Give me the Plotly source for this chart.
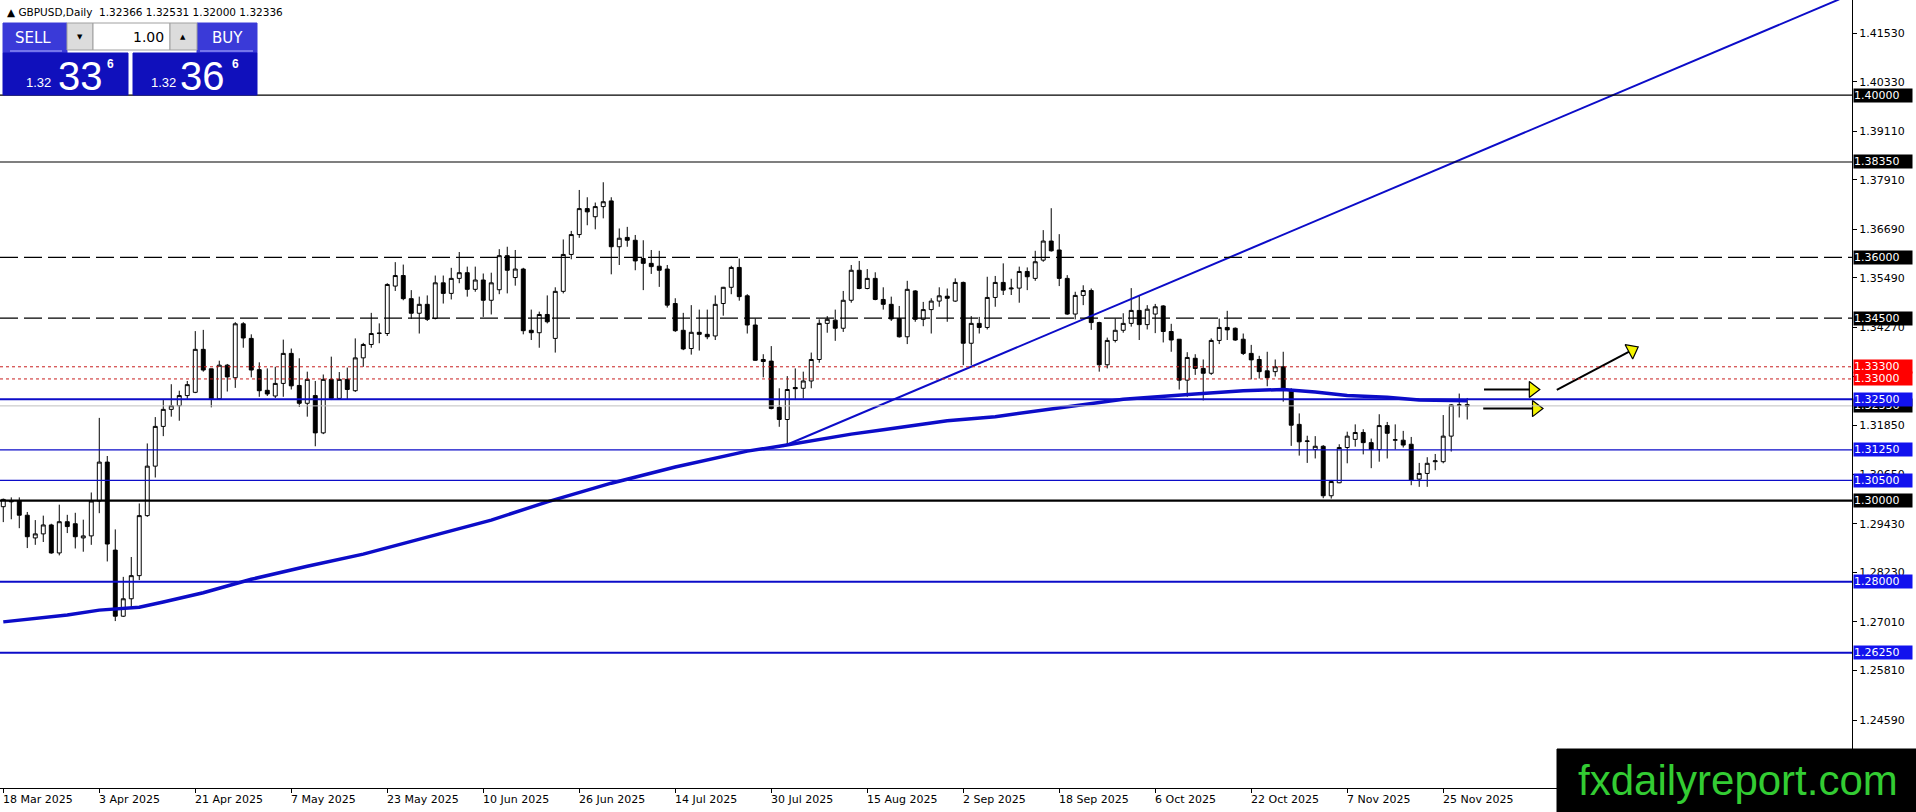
import pandas as pd
import plotly.graph_objects as go

# --- price data, GBPUSD daily (18 Mar 2025 .. 28 Nov 2025)
header = "\u25B2 GBPUSD,Daily  1.32366 1.32531 1.32000 1.32336"

opens = [1.2985, 1.2997, 1.2999, 1.2964, 1.2908, 1.2918, 1.2940, 1.2871, 1.2948, 1.2943,
         1.2908, 1.2913, 1.2999, 1.3095, 1.2878, 1.2715, 1.2758, 1.2815, 1.2963, 1.3085,
         1.3183, 1.3225, 1.3234, 1.3259, 1.3267, 1.3373, 1.3325, 1.3251, 1.3334, 1.3303,
         1.3436, 1.3400, 1.3323, 1.3272, 1.3258, 1.3289, 1.3363, 1.3284, 1.3240, 1.3259,
         1.3167, 1.3299, 1.3252, 1.3299, 1.3271, 1.3352, 1.3385, 1.3412, 1.3412, 1.3529,
         1.3555, 1.3498, 1.3462, 1.3484, 1.3449, 1.3537, 1.3511, 1.3548, 1.3562, 1.3521,
         1.3544, 1.3494, 1.3520, 1.3604, 1.3550, 1.3571, 1.3420, 1.3414, 1.3459, 1.3400,
         1.3516, 1.3607, 1.3656, 1.3720, 1.3700, 1.3725, 1.3739, 1.3626, 1.3649, 1.3642,
         1.3597, 1.3585, 1.3578, 1.3571, 1.3486, 1.3420, 1.3375, 1.3415, 1.3410, 1.3406,
         1.3486, 1.3526, 1.3575, 1.3505, 1.3433, 1.3348, 1.3344, 1.3230, 1.3200, 1.3279,
         1.3277, 1.3295, 1.3348, 1.3437, 1.3445, 1.3425, 1.3494, 1.3568, 1.3523, 1.3548,
         1.3496, 1.3484, 1.3449, 1.3404, 1.3517, 1.3447, 1.3471, 1.3492, 1.3504, 1.3492,
         1.3538, 1.3388, 1.3437, 1.3427, 1.3501, 1.3538, 1.3522, 1.3524, 1.3565, 1.3548,
         1.3593, 1.3640, 1.3618, 1.3548, 1.3460, 1.3506, 1.3518, 1.3439, 1.3335, 1.3395,
         1.3420, 1.3437, 1.3469, 1.3434, 1.3460, 1.3480, 1.3417, 1.3398, 1.3297, 1.3351,
         1.3326, 1.3314, 1.3395, 1.3427, 1.3425, 1.3398, 1.3363, 1.3348, 1.3320, 1.3318,
         1.3330, 1.3274, 1.3188, 1.3146, 1.3126, 1.3134, 1.3012, 1.3044, 1.3131, 1.3151,
         1.3168, 1.3143, 1.3126, 1.3185, 1.3149, 1.3149, 1.3139, 1.3053, 1.3067, 1.3096,
         1.3096, 1.3159, 1.3235, 1.32366]
highs = [1.3005, 1.3008, 1.3008, 1.2972, 1.2952, 1.2963, 1.2943, 1.2990, 1.2965, 1.2970,
         1.2953, 1.3020, 1.3204, 1.3110, 1.2929, 1.2812, 1.2861, 1.2993, 1.3141, 1.3206,
         1.3248, 1.3287, 1.3271, 1.3295, 1.3418, 1.3421, 1.3325, 1.3345, 1.3337, 1.3440,
         1.3440, 1.3410, 1.3341, 1.3326, 1.3330, 1.3397, 1.3375, 1.3351, 1.3318, 1.3295,
         1.3311, 1.3355, 1.3317, 1.3328, 1.3400, 1.3389, 1.3463, 1.3437, 1.3536, 1.3588,
         1.3582, 1.3519, 1.3503, 1.3506, 1.3555, 1.3555, 1.3574, 1.3613, 1.3577, 1.3577,
         1.3560, 1.3562, 1.3620, 1.3626, 1.3618, 1.3574, 1.3471, 1.3466, 1.3506, 1.3526,
         1.3644, 1.3665, 1.3766, 1.3748, 1.3735, 1.3785, 1.3748, 1.3671, 1.3675, 1.3655,
         1.3642, 1.3618, 1.3616, 1.3581, 1.3499, 1.3463, 1.3482, 1.3471, 1.3471, 1.3506,
         1.3527, 1.3579, 1.3597, 1.3509, 1.3449, 1.3361, 1.3381, 1.3277, 1.3307, 1.3326,
         1.3318, 1.3365, 1.3447, 1.3455, 1.3471, 1.3517, 1.3581, 1.3591, 1.3571, 1.3563,
         1.3526, 1.3503, 1.3480, 1.3542, 1.3519, 1.3490, 1.3499, 1.3526, 1.3523, 1.3548,
         1.3540, 1.3455, 1.3453, 1.3552, 1.3554, 1.3585, 1.3547, 1.3577, 1.3575, 1.3616,
         1.3667, 1.3721, 1.3657, 1.3556, 1.3515, 1.3531, 1.3523, 1.3441, 1.3402, 1.3449,
         1.3462, 1.3524, 1.3505, 1.3482, 1.3485, 1.3482, 1.3436, 1.3398, 1.3366, 1.3361,
         1.3348, 1.3400, 1.3449, 1.3468, 1.3427, 1.3412, 1.3384, 1.3357, 1.3367, 1.3348,
         1.3367, 1.3277, 1.3215, 1.3160, 1.3159, 1.3137, 1.3051, 1.3139, 1.3170, 1.3188,
         1.3176, 1.3153, 1.3213, 1.3194, 1.3188, 1.3172, 1.3157, 1.3093, 1.3107, 1.3115,
         1.3211, 1.3238, 1.3264, 1.32531]
lows = [1.2947, 1.2954, 1.2932, 1.2883, 1.2891, 1.2898, 1.2869, 1.2865, 1.2920, 1.2882,
        1.2874, 1.2891, 1.2969, 1.2850, 1.2703, 1.2713, 1.2737, 1.2804, 1.2960, 1.3057,
        1.3159, 1.3207, 1.3197, 1.3251, 1.3265, 1.3318, 1.3230, 1.3248, 1.3269, 1.3278,
        1.3377, 1.3304, 1.3256, 1.3258, 1.3253, 1.3256, 1.3274, 1.3231, 1.3207, 1.3134,
        1.3164, 1.3248, 1.3249, 1.3249, 1.3268, 1.3330, 1.3377, 1.3388, 1.3406, 1.3517,
        1.3494, 1.3448, 1.3412, 1.3443, 1.3447, 1.3486, 1.3496, 1.3536, 1.3503, 1.3515,
        1.3453, 1.3459, 1.3509, 1.3511, 1.3530, 1.3410, 1.3396, 1.3377, 1.3437, 1.3365,
        1.3511, 1.3595, 1.3648, 1.3679, 1.3669, 1.3696, 1.3558, 1.3581, 1.3626, 1.3568,
        1.3519, 1.3559, 1.3527, 1.3476, 1.3416, 1.3371, 1.3360, 1.3370, 1.3398, 1.3396,
        1.3456, 1.3509, 1.3493, 1.3412, 1.3345, 1.3304, 1.3225, 1.3182, 1.3137, 1.3248,
        1.3252, 1.3277, 1.3340, 1.3414, 1.3394, 1.3416, 1.3488, 1.3521, 1.3521, 1.3494,
        1.3471, 1.3443, 1.3402, 1.3386, 1.3441, 1.3430, 1.3412, 1.3478, 1.3441, 1.3490,
        1.3334, 1.3334, 1.3412, 1.3422, 1.3478, 1.3507, 1.3507, 1.3488, 1.3519, 1.3542,
        1.3589, 1.3614, 1.3529, 1.3458, 1.3447, 1.3482, 1.3421, 1.3318, 1.3326, 1.3390,
        1.3414, 1.3429, 1.3396, 1.3422, 1.3413, 1.3390, 1.3367, 1.3274, 1.3256, 1.3310,
        1.3247, 1.3310, 1.3386, 1.3396, 1.3394, 1.3359, 1.3299, 1.3301, 1.3282, 1.3306,
        1.3244, 1.3135, 1.3111, 1.3093, 1.3104, 1.3006, 1.3005, 1.3043, 1.3092, 1.3133,
        1.3114, 1.3080, 1.3096, 1.3104, 1.3126, 1.3131, 1.3038, 1.3034, 1.3034, 1.3075,
        1.3092, 1.3121, 1.3205, 1.32000]
closes = [1.3003, 1.2999, 1.2964, 1.2911, 1.2918, 1.2940, 1.2871, 1.2948, 1.2936, 1.2911,
          1.2913, 1.2999, 1.3095, 1.2893, 1.2715, 1.2758, 1.2815, 1.2963, 1.3085, 1.3183,
          1.3225, 1.3234, 1.3259, 1.3286, 1.3373, 1.3322, 1.3251, 1.3334, 1.3305, 1.3436,
          1.3401, 1.3322, 1.3271, 1.3263, 1.3289, 1.3363, 1.3283, 1.3240, 1.3299, 1.3167,
          1.3299, 1.3252, 1.3299, 1.3274, 1.3352, 1.3385, 1.3412, 1.3413, 1.3533, 1.3555,
          1.3498, 1.3462, 1.3484, 1.3447, 1.3537, 1.3511, 1.3548, 1.3562, 1.3521, 1.3544,
          1.3494, 1.3537, 1.3604, 1.3568, 1.3571, 1.3419, 1.3414, 1.3459, 1.3441, 1.3516,
          1.3607, 1.3656, 1.3720, 1.3712, 1.3725, 1.3737, 1.3626, 1.3647, 1.3642, 1.3591,
          1.3585, 1.3577, 1.3568, 1.3482, 1.3419, 1.3374, 1.3415, 1.3410, 1.3404, 1.3484,
          1.3526, 1.3575, 1.3503, 1.3433, 1.3346, 1.3343, 1.3227, 1.3200, 1.3274, 1.3276,
          1.3295, 1.3348, 1.3437, 1.3447, 1.3425, 1.3494, 1.3568, 1.3523, 1.3548, 1.3496,
          1.3484, 1.3448, 1.3404, 1.3521, 1.3447, 1.3471, 1.3492, 1.3505, 1.3499, 1.3538,
          1.3388, 1.3437, 1.3427, 1.3501, 1.3538, 1.3519, 1.3524, 1.3565, 1.3552, 1.3589,
          1.3640, 1.3616, 1.3548, 1.3460, 1.3506, 1.3518, 1.3439, 1.3335, 1.3395, 1.3420,
          1.3437, 1.3469, 1.3434, 1.3472, 1.3478, 1.3417, 1.3396, 1.3297, 1.3353, 1.3326,
          1.3314, 1.3395, 1.3427, 1.3421, 1.3396, 1.3363, 1.3347, 1.3318, 1.3303, 1.3330,
          1.3274, 1.3186, 1.3145, 1.3147, 1.3134, 1.3012, 1.3047, 1.3131, 1.3159, 1.3168,
          1.3143, 1.3126, 1.3185, 1.3166, 1.3150, 1.3137, 1.3051, 1.3067, 1.3092, 1.3098,
          1.3159, 1.3236, 1.3236, 1.32336]

dates = pd.bdate_range("2025-03-18", periods=len(opens))
bars = list(range(len(opens)))

# moving average (thick blue), sampled along the line
ma_bar = [0, 4, 8, 12, 15, 17, 20, 25, 29, 31, 38, 45, 53, 61, 68, 76, 84, 91, 93, 97,
          102, 106, 110, 114, 118, 124, 132, 140, 149, 155, 160, 164, 168, 173, 177, 181, 183]
ma_val = [1.2701, 1.2710, 1.2718, 1.2730, 1.2733, 1.2737, 1.2750, 1.2773, 1.2795, 1.2806,
          1.2838, 1.2868, 1.2910, 1.2952, 1.2997, 1.3043, 1.3083, 1.3112, 1.3122, 1.3134,
          1.3151, 1.3164, 1.3175, 1.3186, 1.3197, 1.3207, 1.3228, 1.3250, 1.3263, 1.3271,
          1.3274, 1.3268, 1.3259, 1.3255, 1.3248, 1.3247, 1.3246]

# rising trend line from the 1 Aug low
trend_bar = [97.5, 229.5]
trend_val = [1.3134, 1.4236]

# horizontal levels
black_levels = [1.40000, 1.38350]
dashed_levels = [1.36000, 1.34500]
red_levels = [1.33300, 1.33000]
blue_thick_levels = [1.32500, 1.28000, 1.26250]
blue_thin_levels = [1.31250, 1.30500]
key_level = 1.30000
bid = 1.32336

# arrows drawn on the chart (start bar, start price, end bar, end price)
arrow_x0 = [185.1, 185.0, 194.2]
arrow_y0 = [1.3274, 1.3227, 1.3273]
arrow_x1 = [191.2, 191.6, 203.6]
arrow_y1 = [1.3274, 1.3227, 1.3371]
arrow_angle = [0, 0, -28]

# axes
price_ticks = [1.41530, 1.40330, 1.39110, 1.37910, 1.36690, 1.35490, 1.34270, 1.33050,
               1.31850, 1.30650, 1.29430, 1.28230, 1.27010, 1.25810, 1.24590]
date_tick_bar = [0, 12, 24, 36, 48, 60, 72, 84, 96, 108, 120, 132, 144, 156, 168, 180]
date_tick_text = ["18 Mar 2025", "3 Apr 2025", "21 Apr 2025", "7 May 2025", "23 May 2025",
                  "10 Jun 2025", "26 Jun 2025", "14 Jul 2025", "30 Jul 2025", "15 Aug 2025",
                  "2 Sep 2025", "18 Sep 2025", "6 Oct 2025", "22 Oct 2025", "7 Nov 2025",
                  "25 Nov 2025"]

W, H = 1916, 812
PW, PH = 1852, 788  # plot area in pixels
FONT = "DejaVu Sans"
LINE_BLUE = "#0c0cc8"
BOX_BLUE = "#1212ee"


def px(x):
    return x / PW


def py(y):
    return 1 - y / PH


fig = go.Figure()

fig.add_trace(go.Candlestick(
    x=bars, open=opens, high=highs, low=lows, close=closes,
    text=[d.strftime("%d %b %Y") for d in dates],
    increasing=dict(line=dict(color="black", width=1), fillcolor="white"),
    decreasing=dict(line=dict(color="black", width=1), fillcolor="black"),
    whiskerwidth=0, showlegend=False))

fig.add_trace(go.Scatter(x=ma_bar, y=ma_val, mode="lines", line=dict(color=LINE_BLUE, width=3.5),
                         hoverinfo="skip", showlegend=False))
fig.add_trace(go.Scatter(x=trend_bar, y=trend_val, mode="lines", line=dict(color=LINE_BLUE, width=2),
                         hoverinfo="skip", showlegend=False))

# arrows: black shaft + yellow head
for x0, y0, x1, y1, ang in zip(arrow_x0, arrow_y0, arrow_x1, arrow_y1, arrow_angle):
    fig.add_trace(go.Scatter(x=[x0, x1], y=[y0, y1], mode="lines", line=dict(color="black", width=2),
                             hoverinfo="skip", showlegend=False))
    fig.add_trace(go.Scatter(x=[x1], y=[y1], mode="markers",
                             marker=dict(symbol="triangle-right", size=14, angle=ang, color="#f4f400",
                                         line=dict(color="black", width=1.2)),
                             hoverinfo="skip", showlegend=False))


def hline(y, color, width, dash="solid"):
    fig.add_shape(type="line", xref="paper", x0=0, x1=1, yref="y", y0=y, y1=y, layer="above",
                  line=dict(color=color, width=width, dash=dash))


def level_label(value, bg, text=None):
    fig.add_annotation(x=1, xref="paper", xanchor="left", xshift=1, y=value, yref="y", yanchor="middle",
                       text=text or f"{value:.5f}", showarrow=False, bgcolor=bg, width=58, height=13,
                       align="left", borderpad=0, font=dict(family=FONT, size=11, color="white"))


hline(bid, "#c0c0c0", 1)
for v in black_levels:
    hline(v, "black", 1.2)
for v in dashed_levels:
    hline(v, "black", 1.3, "18px,6px")
for v in red_levels:
    hline(v, "#c81e1e", 1, "3px,3px")
for v in blue_thin_levels:
    hline(v, LINE_BLUE, 1.2)
for v in blue_thick_levels:
    hline(v, LINE_BLUE, 2)
hline(key_level, "black", 2.2)

for v in black_levels + dashed_levels:
    level_label(v, "black")
level_label(bid, "black")
for v in red_levels:
    level_label(v, "#ff0000")
for v in blue_thick_levels + blue_thin_levels:
    level_label(v, BOX_BLUE)
level_label(key_level, "black")

# date labels, left aligned at their ticks like MT4
for b, t in zip(date_tick_bar, date_tick_text):
    fig.add_annotation(x=b, xref="x", xanchor="left", xshift=-2, y=0, yref="paper", yanchor="top",
                       yshift=-3, text=t, showarrow=False, font=dict(family=FONT, size=11, color="black"))

# header
fig.add_annotation(x=px(5), y=py(12), xref="paper", yref="paper", xanchor="left", yanchor="middle",
                   text=header, showarrow=False, font=dict(family=FONT, size=10.5, color="black"))


# one-click trading panel
def rect(x0, y0, x1, y1, fill, line=None):
    fig.add_shape(type="rect", xref="paper", yref="paper", x0=px(x0), x1=px(x1), y0=py(y1), y1=py(y0),
                  fillcolor=fill, line=dict(color=line or fill, width=1), layer="above")


def label(x, y, text, size, color="white", anchor="center", family=FONT):
    fig.add_annotation(x=px(x), y=py(y), xref="paper", yref="paper", xanchor=anchor, yanchor="middle",
                       text=text, showarrow=False, font=dict(family=family, size=size, color=color))


rect(3, 23, 67, 53, "#3a3ad8")
rect(3, 53, 128, 95, "#1010bc")
rect(197, 23, 257, 53, "#3a3ad8")
rect(133, 53, 257, 95, "#1010bc")
rect(67, 23, 93, 50, "#dcdcdc", "#a0a0a0")
rect(93, 23, 170, 50, "white", "#a0a0a0")
rect(170, 23, 197, 50, "#dcdcdc", "#a0a0a0")
for x0, x1 in [(10, 62), (200, 253)]:
    fig.add_shape(type="line", xref="paper", yref="paper", x0=px(x0), x1=px(x1), y0=py(51), y1=py(51),
                  line=dict(color="#b0b0ff", width=1), layer="above")

label(33, 38, "SELL", 15)
label(227, 38, "BUY", 15)
label(80, 37, "\u25BC", 7, "black")
label(183, 37, "\u25B2", 7, "black")
label(166, 37, "1.00", 14, "black", "right")
label(24, 82, "1.32", 13, anchor="left", family="Liberation Sans")
label(56, 76, "33", 40, anchor="left", family="Liberation Sans")
label(105, 64, "<b>6</b>", 12, anchor="left", family="Liberation Sans")
label(149, 82, "1.32", 13, anchor="left", family="Liberation Sans")
label(178, 76, "36", 40, anchor="left", family="Liberation Sans")
label(230, 64, "<b>6</b>", 12, anchor="left", family="Liberation Sans")

# watermark
rect(1557, 749, 1916, 812, "black")
fig.add_annotation(x=px(1738), y=py(780), xref="paper", yref="paper", xanchor="center", yanchor="middle",
                   text="fxdailyreport.com", showarrow=False,
                   font=dict(family="Liberation Sans", size=42, color="#33cc33"))

fig.update_layout(
    width=W, height=H,
    margin=dict(l=0, r=W - PW, t=0, b=H - PH),
    plot_bgcolor="white", paper_bgcolor="white",
    font=dict(family=FONT, size=11, color="black"),
    showlegend=False,
    hovermode=False,
    xaxis=dict(range=[-0.41, 231.1], rangeslider=dict(visible=False), showgrid=False, zeroline=False,
               showline=True, linecolor="black", linewidth=1, mirror=True,
               tickvals=date_tick_bar, ticks="outside", ticklen=4, tickcolor="black",
               showticklabels=False),
    yaxis=dict(range=[1.22914, 1.42344], side="right", showgrid=False, zeroline=False,
               showline=True, linecolor="black", linewidth=1, mirror=True,
               tickvals=price_ticks, ticktext=[f"{v:.5f}" for v in price_ticks],
               ticks="outside", ticklen=4, tickcolor="black",
               tickfont=dict(family=FONT, size=11, color="black")),
)

# page body margin would push the 1916x812 figure off-screen
fig.write_html("out.html", config={"displayModeBar": False},
               post_script="document.body.style.margin='0';"
                           "document.body.style.overflow='hidden';")
